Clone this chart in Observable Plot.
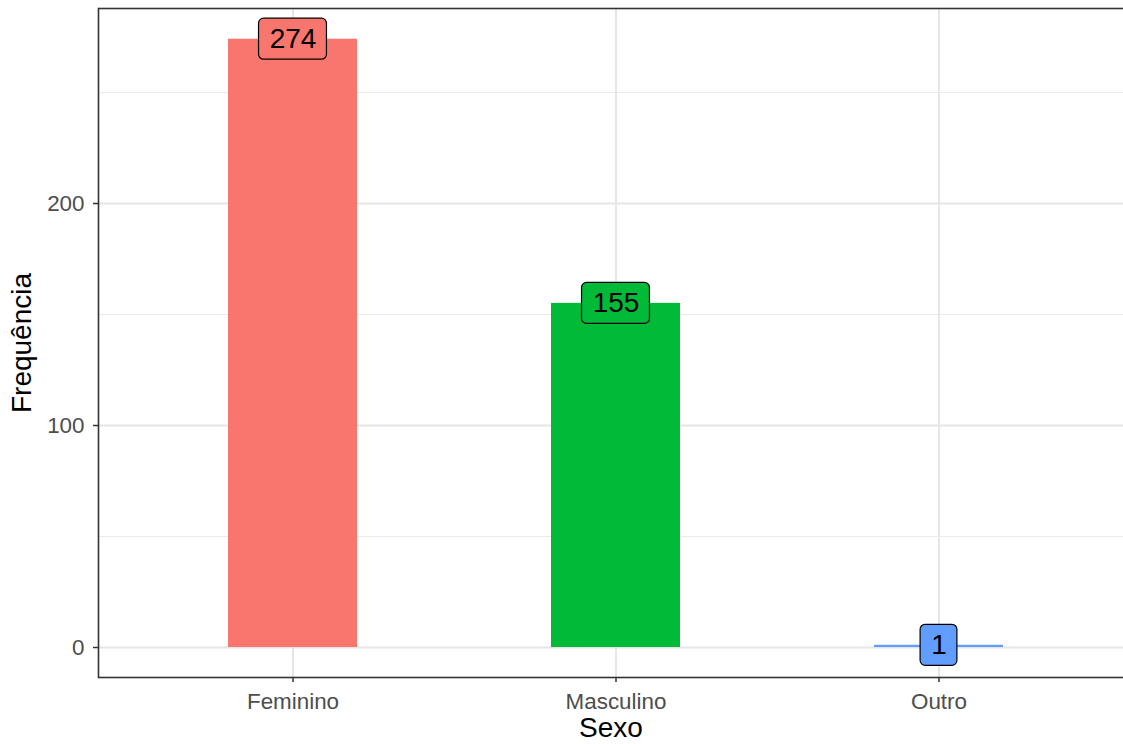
<!DOCTYPE html>
<html>
<head>
<meta charset="utf-8">
<script src="https://cdn.jsdelivr.net/npm/d3@7"></script>
<script src="https://cdn.jsdelivr.net/npm/@observablehq/plot@0.6"></script>
<style>
  html, body { margin: 0; padding: 0; background: white; overflow: hidden; }
</style>
</head>
<body>
<div id="chart"></div>
<script>
const categories = ["Feminino", "Masculino", "Outro"];
const counts = [274, 155, 1];
const colors = ["#F8766D", "#00BA38", "#619CFF"];
const yTicks = [0, 100, 200];
const yMinorTicks = [50, 150, 250];
const xTitle = "Sexo";
const yTitle = "Frequência";

const data = categories.map((c, i) => ({sexo: c, n: counts[i], color: colors[i]}));

const W = 1123, H = 744;
const mL = 98, mT = 8, mB = 67;
const xRange = [98, 1133];
const step = (xRange[1] - xRange[0]) / 3.2;
const bandwidth = 0.4 * step;
const DIGIT_W = 0.556 * 28;
const PAD = 10.8;
const BOX_H = 41;

const boxes = data.map(d => {
  const w = String(d.n).length * DIGIT_W + 2 * PAD;
  const inset = (bandwidth - w) / 2;
  return Plot.barY([d], {
    x: "sexo", y1: "n", y2: "n", fill: "color",
    stroke: "black", strokeWidth: 1.2, rx: 5,
    insetLeft: inset, insetRight: inset,
    insetTop: -BOX_H / 2, insetBottom: -BOX_H / 2
  });
});

const chart = Plot.plot({
  width: W, height: H,
  marginLeft: mL, marginRight: 0, marginTop: mT, marginBottom: mB,
  style: {fontFamily: "'Liberation Sans', Arial, Helvetica, sans-serif", fontSize: "22.4px", background: "white", color: "black"},
  x: {domain: categories, range: xRange, paddingInner: 0.6, paddingOuter: 0.4},
  y: {domain: [-13.51, 287.84]},
  marks: [
    Plot.ruleY(yMinorTicks, {stroke: "#EBEBEB", strokeWidth: 1}),
    Plot.ruleY(yTicks, {stroke: "#E6E6E6", strokeWidth: 2}),
    Plot.ruleX(categories, {stroke: "#E6E6E6", strokeWidth: 2}),
    Plot.barY(data, {x: "sexo", y: "n", fill: "color"}),
    ...boxes,
    Plot.text(data, {x: "sexo", y: "n", text: d => String(d.n), fontSize: 28, fill: "black"}),
    Plot.axisX({tickSize: 5, tickPadding: 11, stroke: "#333333", strokeWidth: 1.5, fill: "#4D4D4D", label: null, fontSize: 22.4}),
    Plot.axisY({ticks: yTicks, tickSize: 5, tickPadding: 9, stroke: "#333333", strokeWidth: 1.5, fill: "#4D4D4D", label: null, fontSize: 22.4}),
    Plot.frame({stroke: "#333333", strokeWidth: 1.6, insetRight: -30}),
    Plot.text([xTitle], {frameAnchor: "bottom", dy: 51, fontSize: 28, fill: "black", textAnchor: "middle", lineAnchor: "middle"}),
    Plot.text([yTitle], {frameAnchor: "left", dx: -76, rotate: -90, fontSize: 28, fill: "black", textAnchor: "middle", lineAnchor: "middle"})
  ]
});

document.getElementById("chart").appendChild(chart);
</script>
</body>
</html>
